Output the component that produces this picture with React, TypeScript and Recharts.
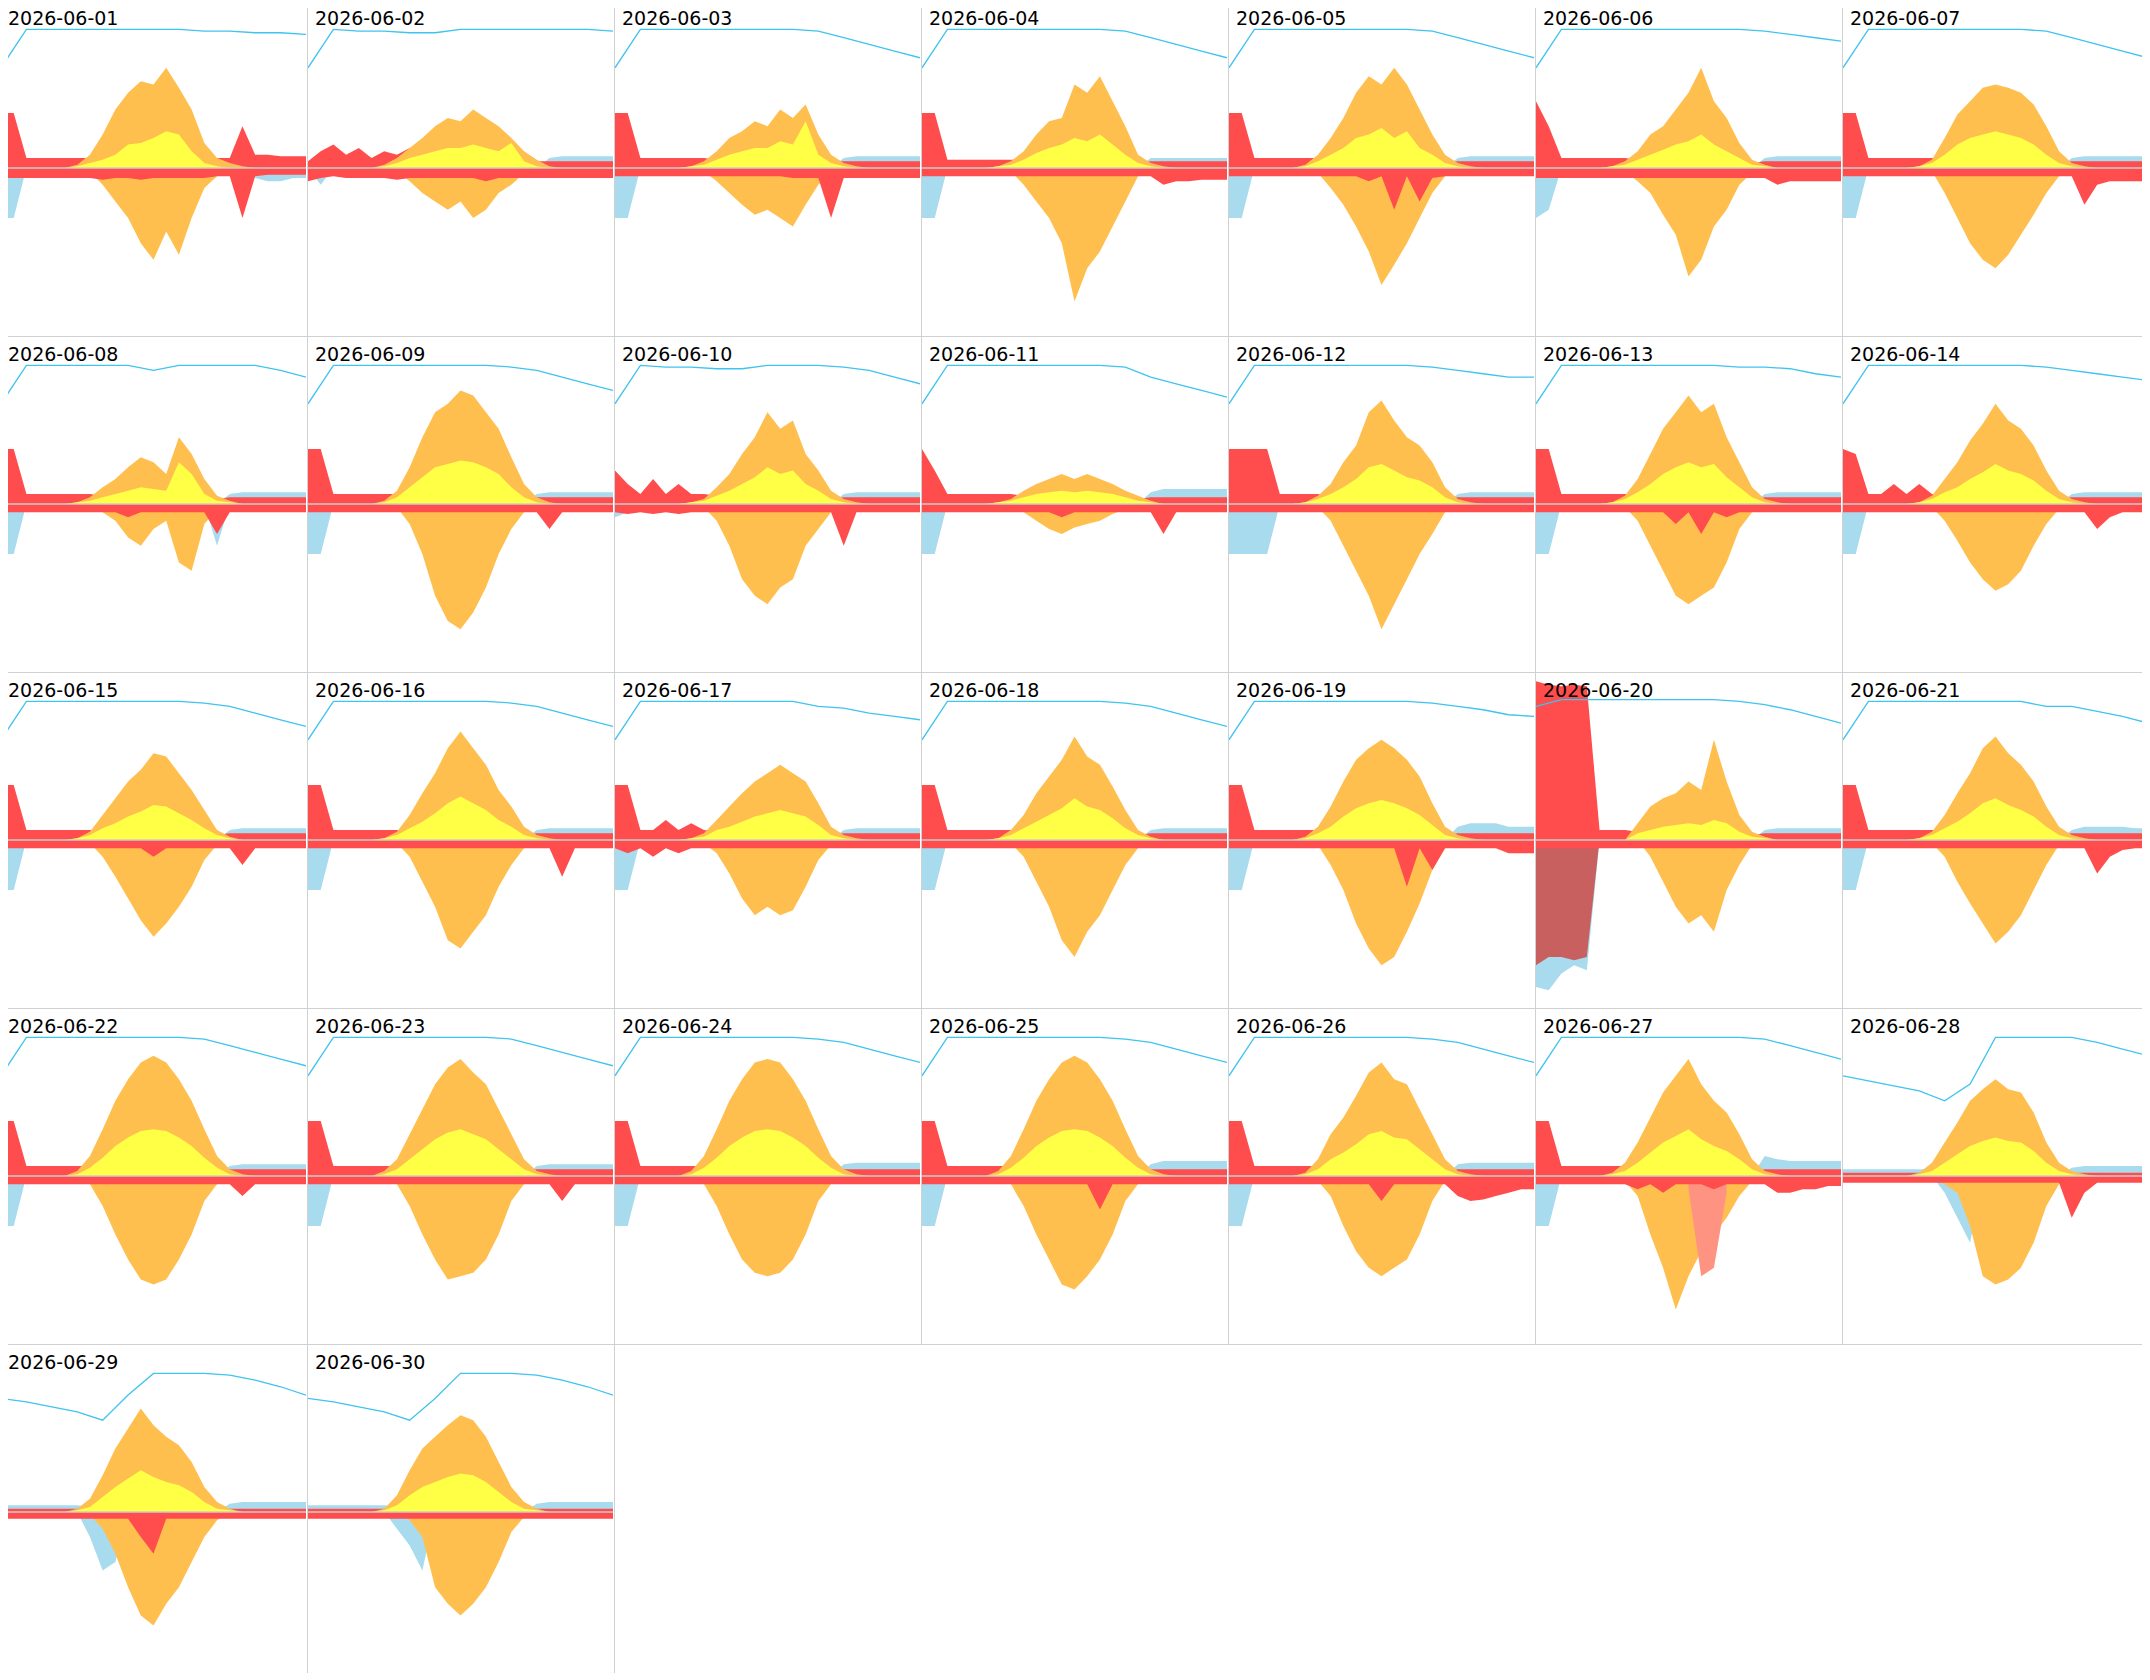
import { Area, ComposedChart, Line, ReferenceLine, XAxis, YAxis } from 'recharts';

const days = Array.from({ length: 30 }, (_, i) => `2026-06-${String(i + 1).padStart(2, '0')}`);

// solar hours 5..20
const solarHours = [5, 6, 7, 8, 9, 10, 11, 12, 13, 14, 15, 16, 17, 18, 19, 20];
const socHours = [0, 2, 4, 6, 8, 10, 12, 14, 16, 18, 20, 22, 24];

const production = [
  [0, 2, 8, 20, 35, 45, 52, 50, 60, 48, 35, 15, 6, 3, 1, 0],
  [0, 2, 6, 12, 18, 25, 30, 28, 35, 30, 25, 18, 10, 5, 1, 0],
  [0, 1, 4, 10, 18, 22, 28, 25, 35, 30, 38, 20, 8, 3, 1, 0],
  [0, 1, 4, 10, 20, 28, 30, 50, 45, 55, 40, 25, 8, 3, 1, 0],
  [0, 2, 8, 18, 30, 45, 55, 50, 60, 50, 35, 20, 8, 3, 1, 0],
  [0, 1, 4, 10, 20, 25, 35, 45, 60, 40, 30, 15, 5, 2, 0, 0],
  [0, 1, 5, 18, 32, 40, 48, 50, 48, 45, 38, 25, 10, 3, 1, 0],
  [0, 1, 4, 10, 15, 22, 28, 25, 18, 40, 30, 15, 5, 2, 0, 0],
  [0, 2, 8, 22, 40, 55, 60, 68, 65, 55, 45, 28, 12, 4, 1, 0],
  [0, 1, 3, 10, 18, 30, 40, 55, 45, 50, 30, 20, 8, 3, 1, 0],
  [0, 1, 3, 8, 12, 15, 18, 15, 18, 15, 12, 8, 5, 2, 0, 0],
  [0, 1, 5, 12, 25, 35, 55, 62, 50, 40, 35, 25, 10, 3, 1, 0],
  [0, 1, 5, 15, 30, 45, 55, 65, 55, 60, 40, 25, 10, 3, 1, 0],
  [0, 1, 5, 15, 25, 38, 48, 60, 50, 45, 35, 20, 8, 3, 1, 0],
  [0, 1, 5, 15, 25, 35, 42, 52, 50, 40, 30, 18, 6, 2, 0, 0],
  [0, 1, 5, 15, 28, 40, 55, 65, 55, 45, 30, 20, 8, 3, 1, 0],
  [0, 1, 4, 12, 20, 28, 35, 40, 45, 40, 35, 22, 8, 3, 1, 0],
  [0, 1, 6, 15, 28, 38, 48, 62, 50, 45, 32, 18, 6, 2, 0, 0],
  [0, 2, 8, 20, 35, 48, 55, 60, 55, 48, 38, 22, 8, 3, 1, 0],
  [0, 0, 0, 10, 20, 25, 28, 35, 30, 60, 35, 15, 5, 2, 0, 0],
  [0, 1, 5, 15, 28, 40, 55, 62, 52, 45, 35, 20, 8, 3, 1, 0],
  [0, 3, 12, 28, 45, 58, 68, 72, 68, 58, 45, 28, 12, 4, 1, 0],
  [0, 3, 10, 25, 40, 55, 65, 70, 62, 55, 40, 25, 10, 3, 1, 0],
  [0, 3, 12, 28, 45, 58, 68, 70, 68, 58, 45, 28, 12, 4, 1, 0],
  [0, 3, 12, 28, 45, 58, 68, 72, 68, 58, 45, 28, 12, 4, 1, 0],
  [0, 2, 10, 25, 35, 48, 62, 68, 58, 55, 40, 25, 10, 3, 1, 0],
  [0, 2, 8, 20, 35, 50, 60, 70, 55, 45, 38, 25, 10, 3, 1, 0],
  [0, 2, 8, 20, 32, 45, 52, 58, 52, 50, 38, 20, 8, 3, 1, 0],
  [0, 2, 8, 22, 38, 50, 62, 52, 45, 40, 30, 15, 6, 2, 0, 0],
  [0, 2, 10, 25, 38, 45, 52, 58, 55, 45, 30, 15, 6, 2, 0, 0],
];

const selfUse = [
  [0, 1, 3, 5, 8, 14, 15, 18, 22, 20, 10, 3, 1, 0, 0, 0],
  [0, 1, 3, 6, 8, 10, 12, 12, 14, 12, 10, 15, 4, 1, 0, 0],
  [0, 1, 2, 5, 8, 10, 12, 12, 16, 14, 28, 8, 3, 1, 0, 0],
  [0, 1, 2, 5, 9, 12, 14, 18, 16, 20, 14, 8, 3, 1, 0, 0],
  [0, 1, 4, 8, 12, 18, 20, 24, 18, 22, 12, 8, 3, 1, 0, 0],
  [0, 1, 2, 5, 8, 11, 14, 16, 20, 14, 10, 6, 2, 1, 0, 0],
  [0, 1, 3, 8, 14, 18, 20, 22, 20, 18, 14, 8, 3, 1, 0, 0],
  [0, 1, 2, 4, 6, 8, 10, 9, 8, 25, 18, 6, 2, 1, 0, 0],
  [0, 1, 4, 10, 16, 22, 24, 26, 25, 22, 18, 10, 4, 1, 0, 0],
  [0, 1, 2, 5, 8, 12, 16, 22, 18, 20, 12, 8, 3, 1, 0, 0],
  [0, 1, 2, 4, 6, 7, 8, 7, 8, 7, 6, 4, 2, 1, 0, 0],
  [0, 1, 3, 6, 10, 15, 22, 24, 20, 16, 14, 10, 4, 1, 0, 0],
  [0, 1, 3, 7, 12, 18, 22, 25, 22, 24, 16, 10, 4, 1, 0, 0],
  [0, 1, 3, 7, 10, 15, 19, 24, 20, 18, 14, 8, 3, 1, 0, 0],
  [0, 1, 3, 7, 10, 14, 17, 21, 20, 16, 12, 7, 3, 1, 0, 0],
  [0, 1, 3, 7, 11, 16, 22, 26, 22, 18, 12, 8, 3, 1, 0, 0],
  [0, 1, 2, 6, 8, 11, 14, 16, 18, 16, 14, 9, 3, 1, 0, 0],
  [0, 1, 3, 7, 11, 15, 19, 25, 20, 18, 13, 7, 3, 1, 0, 0],
  [0, 1, 4, 8, 14, 19, 22, 24, 22, 19, 15, 9, 3, 1, 0, 0],
  [0, 0, 0, 4, 6, 8, 9, 10, 9, 12, 10, 5, 2, 1, 0, 0],
  [0, 1, 3, 7, 11, 16, 22, 25, 21, 18, 14, 8, 3, 1, 0, 0],
  [0, 1, 5, 11, 18, 23, 27, 28, 27, 23, 18, 11, 5, 1, 0, 0],
  [0, 1, 4, 10, 16, 22, 26, 28, 25, 22, 16, 10, 4, 1, 0, 0],
  [0, 1, 5, 11, 18, 23, 27, 28, 27, 23, 18, 11, 5, 1, 0, 0],
  [0, 1, 5, 11, 18, 23, 27, 28, 27, 23, 18, 11, 5, 1, 0, 0],
  [0, 1, 4, 10, 14, 19, 25, 27, 23, 22, 16, 10, 4, 1, 0, 0],
  [0, 1, 3, 8, 14, 20, 24, 28, 22, 18, 15, 10, 4, 1, 0, 0],
  [0, 1, 3, 8, 13, 18, 21, 23, 21, 20, 15, 8, 3, 1, 0, 0],
  [0, 1, 3, 9, 15, 20, 25, 21, 18, 16, 12, 6, 2, 1, 0, 0],
  [0, 1, 4, 10, 15, 18, 21, 23, 22, 18, 12, 6, 2, 1, 0, 0],
];

const charging = [
  [0, 0, 2, 10, 20, 30, 45, 55, 38, 52, 30, 12, 5, 0, 0, 0],
  [0, 0, 2, 8, 15, 20, 25, 20, 30, 25, 15, 10, 3, 0, 0, 0],
  [0, 0, 2, 8, 15, 22, 28, 25, 30, 35, 22, 10, 3, 0, 0, 0],
  [0, 0, 2, 10, 20, 30, 45, 80, 60, 50, 35, 20, 5, 0, 0, 0],
  [0, 0, 3, 12, 22, 35, 50, 70, 58, 45, 30, 15, 5, 0, 0, 0],
  [0, 0, 2, 8, 15, 28, 40, 65, 55, 35, 25, 10, 3, 0, 0, 0],
  [0, 0, 2, 15, 30, 45, 55, 60, 52, 40, 28, 15, 5, 0, 0, 0],
  [0, 0, 1, 5, 10, 20, 25, 15, 10, 35, 40, 12, 3, 0, 0, 0],
  [0, 0, 2, 12, 30, 55, 70, 75, 65, 50, 30, 15, 5, 0, 0, 0],
  [0, 0, 2, 10, 25, 45, 55, 60, 50, 45, 25, 15, 5, 0, 0, 0],
  [0, 0, 1, 5, 10, 15, 18, 14, 12, 10, 6, 3, 1, 0, 0, 0],
  [0, 0, 2, 10, 25, 40, 55, 75, 60, 45, 30, 18, 5, 0, 0, 0],
  [0, 0, 2, 10, 25, 40, 55, 60, 55, 50, 35, 15, 5, 0, 0, 0],
  [0, 0, 2, 10, 22, 35, 45, 52, 48, 40, 25, 12, 3, 0, 0, 0],
  [0, 0, 2, 10, 22, 35, 48, 58, 50, 40, 28, 12, 3, 0, 0, 0],
  [0, 0, 2, 10, 25, 40, 60, 65, 55, 45, 28, 15, 5, 0, 0, 0],
  [0, 0, 2, 8, 20, 35, 45, 40, 45, 42, 28, 12, 3, 0, 0, 0],
  [0, 0, 2, 10, 25, 40, 60, 70, 55, 45, 30, 15, 5, 0, 0, 0],
  [0, 0, 3, 15, 30, 50, 65, 75, 70, 55, 38, 18, 5, 0, 0, 0],
  [0, 0, 0, 0, 10, 25, 40, 50, 45, 55, 30, 15, 3, 0, 0, 0],
  [0, 0, 2, 10, 25, 38, 50, 62, 55, 45, 30, 15, 3, 0, 0, 0],
  [0, 0, 5, 18, 35, 50, 62, 65, 62, 50, 35, 15, 5, 0, 0, 0],
  [0, 0, 5, 18, 35, 50, 62, 60, 58, 50, 35, 15, 5, 0, 0, 0],
  [0, 0, 5, 18, 35, 50, 58, 60, 58, 50, 35, 15, 5, 0, 0, 0],
  [0, 0, 5, 18, 35, 50, 65, 68, 60, 50, 35, 15, 5, 0, 0, 0],
  [0, 0, 3, 12, 30, 45, 55, 60, 55, 50, 35, 15, 3, 0, 0, 0],
  [0, 0, 3, 12, 35, 55, 80, 60, 45, 35, 25, 12, 3, 0, 0, 0],
  [0, 0, 2, 5, 10, 30, 60, 65, 62, 55, 40, 18, 5, 0, 0, 0],
  [0, 0, 2, 10, 25, 45, 62, 68, 55, 45, 30, 15, 5, 0, 0, 0],
  [0, 0, 1, 5, 15, 45, 55, 62, 55, 45, 30, 12, 3, 0, 0, 0],
];

// hourly 0..23
const gridImport = [
  [33, 33, 6, 6, 6, 6, 6, 6, 5, 3, 3, 3, 3, 3, 3, 4, 5, 6, 6, 25, 8, 8, 7, 7],
  [4, 10, 14, 8, 12, 6, 10, 8, 12, 6, 4, 3, 3, 3, 3, 4, 5, 4, 4, 4, 4, 4, 4, 4],
  [33, 33, 6, 6, 6, 6, 6, 6, 5, 3, 3, 3, 3, 3, 3, 4, 10, 4, 4, 4, 4, 4, 4, 4],
  [33, 33, 5, 5, 5, 5, 5, 5, 5, 3, 3, 3, 3, 3, 3, 3, 3, 3, 4, 4, 4, 4, 4, 4],
  [33, 33, 6, 6, 6, 6, 6, 6, 5, 3, 3, 3, 3, 3, 3, 3, 8, 3, 4, 4, 4, 4, 4, 4],
  [40, 25, 6, 6, 6, 6, 6, 6, 5, 3, 3, 3, 3, 3, 3, 3, 3, 3, 4, 4, 4, 4, 4, 4],
  [33, 33, 6, 6, 6, 6, 6, 6, 5, 3, 3, 3, 3, 3, 3, 3, 3, 3, 4, 4, 4, 4, 4, 4],
  [33, 33, 6, 6, 6, 6, 6, 6, 5, 3, 3, 3, 3, 3, 3, 3, 3, 3, 4, 4, 4, 4, 4, 4],
  [33, 33, 6, 6, 6, 6, 6, 6, 5, 3, 3, 3, 3, 3, 3, 3, 3, 3, 4, 4, 4, 4, 4, 4],
  [20, 12, 6, 15, 6, 12, 6, 6, 5, 3, 3, 3, 3, 3, 3, 3, 3, 3, 4, 4, 4, 4, 4, 4],
  [33, 20, 6, 6, 6, 6, 6, 6, 5, 3, 3, 3, 3, 3, 3, 3, 3, 3, 4, 4, 4, 4, 4, 4],
  [33, 33, 33, 33, 6, 6, 6, 6, 5, 3, 3, 3, 3, 3, 3, 3, 3, 3, 4, 4, 4, 4, 4, 4],
  [33, 33, 6, 6, 6, 6, 6, 6, 5, 3, 3, 3, 3, 3, 3, 3, 3, 3, 4, 4, 4, 4, 4, 4],
  [33, 30, 6, 6, 12, 6, 12, 6, 5, 3, 3, 3, 3, 3, 3, 3, 3, 3, 4, 4, 4, 4, 4, 4],
  [33, 33, 6, 6, 6, 6, 6, 6, 5, 3, 3, 3, 3, 3, 3, 3, 3, 3, 4, 4, 4, 4, 4, 4],
  [33, 33, 6, 6, 6, 6, 6, 6, 5, 3, 3, 3, 3, 3, 3, 3, 3, 3, 4, 4, 4, 4, 4, 4],
  [33, 33, 6, 6, 12, 6, 10, 6, 5, 3, 3, 3, 3, 3, 3, 3, 3, 3, 4, 4, 4, 4, 4, 4],
  [33, 33, 6, 6, 6, 6, 6, 6, 5, 3, 3, 3, 3, 3, 3, 3, 3, 3, 4, 4, 4, 4, 4, 4],
  [33, 33, 6, 6, 6, 6, 6, 6, 5, 3, 3, 3, 3, 3, 3, 3, 3, 3, 4, 4, 4, 4, 4, 4],
  [95, 93, 92, 93, 92, 6, 6, 6, 5, 3, 3, 3, 3, 3, 3, 3, 3, 3, 4, 4, 4, 4, 4, 4],
  [33, 33, 6, 6, 6, 6, 6, 6, 5, 3, 3, 3, 3, 3, 3, 3, 3, 3, 4, 4, 4, 4, 4, 4],
  [33, 33, 6, 6, 6, 6, 6, 6, 5, 3, 3, 3, 3, 3, 3, 3, 3, 3, 4, 4, 4, 4, 4, 4],
  [33, 33, 6, 6, 6, 6, 6, 6, 5, 3, 3, 3, 3, 3, 3, 3, 3, 3, 4, 4, 4, 4, 4, 4],
  [33, 33, 6, 6, 6, 6, 6, 6, 5, 3, 3, 3, 3, 3, 3, 3, 3, 3, 4, 4, 4, 4, 4, 4],
  [33, 33, 6, 6, 6, 6, 6, 6, 5, 3, 3, 3, 3, 3, 3, 3, 3, 3, 4, 4, 4, 4, 4, 4],
  [33, 33, 6, 6, 6, 6, 6, 6, 5, 3, 3, 3, 3, 3, 3, 3, 3, 3, 4, 4, 4, 4, 4, 4],
  [33, 33, 6, 6, 6, 6, 6, 6, 5, 3, 3, 3, 3, 3, 3, 3, 3, 3, 4, 4, 4, 4, 4, 4],
  [2, 2, 2, 2, 2, 2, 2, 2, 2, 2, 2, 2, 2, 2, 2, 2, 2, 2, 2, 2, 2, 2, 2, 2],
  [2, 2, 2, 2, 2, 2, 2, 2, 2, 2, 2, 2, 2, 2, 2, 2, 2, 2, 2, 2, 2, 2, 2, 2],
  [2, 2, 2, 2, 2, 2, 2, 2, 2, 2, 2, 2, 2, 2, 2, 2, 2, 2, 2, 2, 2, 2, 2, 2],
];

const gridExport = [
  [-6, -6, -6, -6, -6, -6, -6, -6, -7, -6, -6, -7, -6, -6, -6, -6, -6, -5, -5, -30, -5, -4, -4, -4],
  [-8, -6, -5, -6, -6, -6, -6, -7, -6, -6, -6, -6, -6, -6, -8, -6, -6, -6, -6, -6, -6, -6, -6, -6],
  [-5, -5, -5, -5, -5, -5, -5, -5, -5, -5, -5, -5, -5, -5, -6, -6, -6, -30, -6, -6, -6, -6, -6, -6],
  [-5, -5, -5, -5, -5, -5, -5, -5, -5, -5, -5, -5, -5, -5, -5, -5, -5, -5, -5, -10, -8, -8, -7, -7],
  [-5, -5, -5, -5, -5, -5, -5, -5, -5, -5, -5, -8, -5, -25, -5, -20, -6, -5, -5, -5, -5, -5, -5, -5],
  [-6, -6, -6, -6, -6, -6, -6, -6, -6, -6, -6, -6, -6, -6, -6, -6, -6, -6, -6, -10, -8, -8, -8, -8],
  [-5, -5, -5, -5, -5, -5, -5, -5, -5, -5, -5, -5, -5, -5, -5, -5, -5, -5, -5, -22, -10, -8, -8, -8],
  [-5, -5, -5, -5, -5, -5, -5, -5, -5, -5, -8, -5, -5, -5, -5, -5, -5, -18, -5, -5, -5, -5, -5, -5],
  [-5, -5, -5, -5, -5, -5, -5, -5, -5, -5, -5, -5, -5, -5, -5, -5, -5, -5, -5, -15, -5, -5, -5, -5],
  [-5, -6, -5, -6, -5, -6, -5, -5, -5, -5, -5, -5, -5, -5, -5, -5, -5, -5, -25, -5, -5, -5, -5, -5],
  [-5, -5, -5, -5, -5, -5, -5, -5, -5, -5, -5, -8, -5, -5, -5, -5, -5, -5, -5, -18, -5, -5, -5, -5],
  [-5, -5, -5, -5, -5, -5, -5, -5, -5, -5, -5, -5, -5, -5, -5, -5, -5, -5, -5, -5, -5, -5, -5, -5],
  [-5, -5, -5, -5, -5, -5, -5, -5, -5, -5, -5, -12, -5, -18, -5, -8, -5, -5, -5, -5, -5, -5, -5, -5],
  [-5, -5, -5, -5, -5, -5, -5, -5, -5, -5, -5, -5, -5, -5, -5, -5, -5, -5, -5, -5, -15, -8, -5, -5],
  [-5, -5, -5, -5, -5, -5, -5, -5, -5, -5, -5, -5, -10, -5, -5, -5, -5, -5, -5, -15, -5, -5, -5, -5],
  [-5, -5, -5, -5, -5, -5, -5, -5, -5, -5, -5, -5, -5, -5, -5, -5, -5, -5, -5, -5, -22, -5, -5, -5],
  [-5, -8, -5, -10, -5, -8, -5, -5, -5, -5, -5, -5, -5, -5, -5, -5, -5, -5, -5, -5, -5, -5, -5, -5],
  [-5, -5, -5, -5, -5, -5, -5, -5, -5, -5, -5, -5, -5, -5, -5, -5, -5, -5, -5, -5, -5, -5, -5, -5],
  [-5, -5, -5, -5, -5, -5, -5, -5, -5, -5, -5, -5, -5, -5, -28, -5, -18, -5, -5, -5, -5, -5, -8, -8],
  [-5, -5, -5, -5, -5, -5, -5, -5, -5, -5, -5, -5, -5, -5, -5, -5, -5, -5, -5, -5, -5, -5, -5, -5],
  [-5, -5, -5, -5, -5, -5, -5, -5, -5, -5, -5, -5, -5, -5, -5, -5, -5, -5, -5, -5, -20, -10, -6, -5],
  [-5, -5, -5, -5, -5, -5, -5, -5, -5, -5, -5, -5, -5, -5, -5, -5, -5, -5, -5, -12, -5, -5, -5, -5],
  [-5, -5, -5, -5, -5, -5, -5, -5, -5, -5, -5, -5, -5, -5, -5, -5, -5, -5, -5, -5, -15, -5, -5, -5],
  [-5, -5, -5, -5, -5, -5, -5, -5, -5, -5, -5, -5, -5, -5, -5, -5, -5, -5, -5, -5, -5, -5, -5, -5],
  [-5, -5, -5, -5, -5, -5, -5, -5, -5, -5, -5, -5, -5, -5, -20, -5, -5, -5, -5, -5, -5, -5, -5, -5],
  [-5, -5, -5, -5, -5, -5, -5, -5, -5, -5, -5, -5, -15, -5, -5, -5, -5, -5, -12, -15, -14, -12, -10, -8],
  [-5, -5, -5, -5, -5, -5, -5, -5, -8, -5, -10, -5, -5, -5, -8, -5, -5, -5, -5, -10, -10, -8, -8, -6],
  [-4, -4, -4, -4, -4, -4, -4, -4, -4, -4, -4, -4, -4, -4, -4, -4, -4, -4, -25, -10, -4, -4, -4, -4],
  [-4, -4, -4, -4, -4, -4, -4, -4, -4, -4, -4, -15, -25, -4, -4, -4, -4, -4, -4, -4, -4, -4, -4, -4],
  [-4, -4, -4, -4, -4, -4, -4, -4, -4, -4, -4, -4, -4, -4, -4, -4, -4, -4, -4, -4, -4, -4, -4, -4],
];

const batteryIn = [
  [-30, -30, 0, 0, 0, 0, 0, 0, 0, 0, 0, 0, 0, 0, 0, 0, 0, 0, 0, 0, -6, -8, -8, -6],
  [0, -10, 0, 0, 0, 0, 0, 0, 0, 0, 0, 0, 0, 0, 0, 0, 0, 0, 0, 0, 0, 0, 0, 0],
  [-30, -30, 0, 0, 0, 0, 0, 0, 0, 0, 0, 0, 0, 0, 0, 0, 0, 0, 0, 0, 0, 0, 0, 0],
  [-30, -30, 0, 0, 0, 0, 0, 0, 0, 0, 0, 0, 0, 0, 0, 0, 0, 0, 0, 0, 0, 0, 0, 0],
  [-30, -30, 0, 0, 0, 0, 0, 0, 0, 0, 0, 0, 0, 0, 0, 0, 0, 0, 0, 0, 0, 0, 0, 0],
  [-30, -25, 0, 0, 0, 0, 0, 0, 0, 0, 0, 0, 0, 0, 0, 0, 0, 0, 0, 0, 0, 0, 0, 0],
  [-30, -30, 0, 0, 0, 0, 0, 0, 0, 0, 0, 0, 0, 0, 0, 0, 0, 0, 0, 0, 0, 0, 0, 0],
  [-30, -30, 0, 0, 0, 0, 0, 0, 0, 0, 0, 0, 0, 0, 0, 0, 0, -25, 0, 0, 0, 0, 0, 0],
  [-30, -30, 0, 0, 0, 0, 0, 0, 0, 0, 0, 0, 0, 0, 0, 0, 0, 0, 0, 0, 0, 0, 0, 0],
  [-8, -5, 0, 0, 0, 0, 0, 0, 0, 0, 0, 0, 0, 0, 0, 0, 0, 0, 0, 0, 0, 0, 0, 0],
  [-30, -30, 0, 0, 0, 0, 0, 0, 0, 0, 0, 0, 0, 0, 0, 0, 0, 0, 0, 0, 0, 0, 0, 0],
  [-30, -30, -30, -30, 0, 0, 0, 0, 0, 0, 0, 0, 0, 0, 0, 0, 0, 0, 0, 0, 0, 0, 0, 0],
  [-30, -30, 0, 0, 0, 0, 0, 0, 0, 0, 0, 0, 0, 0, 0, 0, 0, 0, 0, 0, 0, 0, 0, 0],
  [-30, -30, 0, 0, 0, 0, 0, 0, 0, 0, 0, 0, 0, 0, 0, 0, 0, 0, 0, 0, 0, 0, 0, 0],
  [-30, -30, 0, 0, 0, 0, 0, 0, 0, 0, 0, 0, 0, 0, 0, 0, 0, 0, 0, 0, 0, 0, 0, 0],
  [-30, -30, 0, 0, 0, 0, 0, 0, 0, 0, 0, 0, 0, 0, 0, 0, 0, 0, 0, 0, 0, 0, 0, 0],
  [-30, -30, 0, 0, 0, 0, 0, 0, 0, 0, 0, 0, 0, 0, 0, 0, 0, 0, 0, 0, 0, 0, 0, 0],
  [-30, -30, 0, 0, 0, 0, 0, 0, 0, 0, 0, 0, 0, 0, 0, 0, 0, 0, 0, 0, 0, 0, 0, 0],
  [-30, -30, 0, 0, 0, 0, 0, 0, 0, 0, 0, 0, 0, 0, 0, 0, 0, 0, 0, 0, 0, 0, 0, 0],
  [-88, -90, -80, -75, -78, 0, 0, 0, 0, 0, 0, 0, 0, 0, 0, 0, 0, 0, 0, 0, 0, 0, 0, 0],
  [-30, -30, 0, 0, 0, 0, 0, 0, 0, 0, 0, 0, 0, 0, 0, 0, 0, 0, 0, 0, 0, 0, 0, 0],
  [-30, -30, 0, 0, 0, 0, 0, 0, 0, 0, 0, 0, 0, 0, 0, 0, 0, 0, 0, 0, 0, 0, 0, 0],
  [-30, -30, 0, 0, 0, 0, 0, 0, 0, 0, 0, 0, 0, 0, 0, 0, 0, 0, 0, 0, 0, 0, 0, 0],
  [-30, -30, 0, 0, 0, 0, 0, 0, 0, 0, 0, 0, 0, 0, 0, 0, 0, 0, 0, 0, 0, 0, 0, 0],
  [-30, -30, 0, 0, 0, 0, 0, 0, 0, 0, 0, 0, 0, 0, 0, 0, 0, 0, 0, 0, 0, 0, 0, 0],
  [-30, -30, 0, 0, 0, 0, 0, 0, 0, 0, 0, 0, 0, 0, 0, 0, 0, 0, 0, 0, 0, 0, 0, 0],
  [-30, -30, 0, 0, 0, 0, 0, 0, 0, 0, 0, 0, 0, 0, 0, 0, 0, 0, 0, 0, 0, 0, 0, 0],
  [0, 0, 0, 0, 0, 0, 0, 0, -10, -25, -40, 0, 0, 0, 0, 0, 0, 0, 0, 0, 0, 0, 0, 0],
  [0, 0, 0, 0, 0, 0, 0, -15, -35, -30, 0, 0, 0, 0, 0, 0, 0, 0, 0, 0, 0, 0, 0, 0],
  [0, 0, 0, 0, 0, 0, 0, -10, -20, -35, 0, 0, 0, 0, 0, 0, 0, 0, 0, 0, 0, 0, 0, 0],
];

const batteryOut = [
  [0, 0, 0, 0, 0, 0, 0, 0, 0, 0, 0, 0, 0, 0, 0, 0, 0, 0, 0, 0, 0, 0, 0, 0],
  [0, 0, 0, 0, 0, 0, 0, 0, 0, 0, 0, 0, 0, 0, 0, 0, 0, 0, 0, 6, 7, 7, 7, 7],
  [0, 0, 0, 0, 0, 0, 0, 0, 0, 0, 0, 0, 0, 0, 0, 0, 0, 0, 6, 7, 7, 7, 7, 7],
  [0, 0, 0, 0, 0, 0, 0, 0, 0, 0, 0, 0, 0, 0, 0, 0, 0, 0, 6, 6, 6, 6, 6, 6],
  [0, 0, 0, 0, 0, 0, 0, 0, 0, 0, 0, 0, 0, 0, 0, 0, 0, 0, 6, 7, 7, 7, 7, 7],
  [0, 0, 0, 0, 0, 0, 0, 0, 0, 0, 0, 0, 0, 0, 0, 0, 0, 0, 6, 7, 7, 7, 7, 7],
  [0, 0, 0, 0, 0, 0, 0, 0, 0, 0, 0, 0, 0, 0, 0, 0, 0, 0, 6, 7, 7, 7, 7, 7],
  [0, 0, 0, 0, 0, 0, 0, 0, 0, 0, 0, 0, 0, 0, 0, 0, 0, 0, 6, 7, 7, 7, 7, 7],
  [0, 0, 0, 0, 0, 0, 0, 0, 0, 0, 0, 0, 0, 0, 0, 0, 0, 0, 6, 7, 7, 7, 7, 7],
  [0, 0, 0, 0, 0, 0, 0, 0, 0, 0, 0, 0, 0, 0, 0, 0, 0, 0, 6, 7, 7, 7, 7, 7],
  [0, 0, 0, 0, 0, 0, 0, 0, 0, 0, 0, 0, 0, 0, 0, 0, 0, 0, 7, 9, 9, 9, 9, 9],
  [0, 0, 0, 0, 0, 0, 0, 0, 0, 0, 0, 0, 0, 0, 0, 0, 0, 0, 6, 7, 7, 7, 7, 7],
  [0, 0, 0, 0, 0, 0, 0, 0, 0, 0, 0, 0, 0, 0, 0, 0, 0, 0, 6, 7, 7, 7, 7, 7],
  [0, 0, 0, 0, 0, 0, 0, 0, 0, 0, 0, 0, 0, 0, 0, 0, 0, 0, 6, 7, 7, 7, 7, 7],
  [0, 0, 0, 0, 0, 0, 0, 0, 0, 0, 0, 0, 0, 0, 0, 0, 0, 0, 6, 7, 7, 7, 7, 7],
  [0, 0, 0, 0, 0, 0, 0, 0, 0, 0, 0, 0, 0, 0, 0, 0, 0, 0, 6, 7, 7, 7, 7, 7],
  [0, 0, 0, 0, 0, 0, 0, 0, 0, 0, 0, 0, 0, 0, 0, 0, 0, 0, 6, 7, 7, 7, 7, 7],
  [0, 0, 0, 0, 0, 0, 0, 0, 0, 0, 0, 0, 0, 0, 0, 0, 0, 0, 6, 7, 7, 7, 7, 7],
  [0, 0, 0, 0, 0, 0, 0, 0, 0, 0, 0, 0, 0, 0, 0, 0, 0, 0, 8, 10, 10, 10, 8, 8],
  [0, 0, 0, 0, 0, 0, 0, 0, 0, 0, 0, 0, 0, 0, 0, 0, 0, 0, 6, 7, 7, 7, 7, 7],
  [0, 0, 0, 0, 0, 0, 0, 0, 0, 0, 0, 0, 0, 0, 0, 0, 0, 0, 6, 8, 8, 8, 8, 7],
  [0, 0, 0, 0, 0, 0, 0, 0, 0, 0, 0, 0, 0, 0, 0, 0, 0, 0, 6, 7, 7, 7, 7, 7],
  [0, 0, 0, 0, 0, 0, 0, 0, 0, 0, 0, 0, 0, 0, 0, 0, 0, 0, 6, 7, 7, 7, 7, 7],
  [0, 0, 0, 0, 0, 0, 0, 0, 0, 0, 0, 0, 0, 0, 0, 0, 0, 0, 7, 8, 8, 8, 8, 8],
  [0, 0, 0, 0, 0, 0, 0, 0, 0, 0, 0, 0, 0, 0, 0, 0, 0, 0, 7, 9, 9, 9, 9, 9],
  [0, 0, 0, 0, 0, 0, 0, 0, 0, 0, 0, 0, 0, 0, 0, 0, 0, 0, 7, 8, 8, 8, 8, 8],
  [0, 0, 0, 0, 0, 0, 0, 0, 0, 0, 0, 0, 0, 0, 0, 0, 0, 0, 12, 10, 9, 9, 9, 9],
  [4, 4, 4, 4, 4, 4, 4, 4, 3, 0, 0, 0, 0, 0, 0, 0, 0, 0, 5, 6, 6, 6, 6, 6],
  [4, 4, 4, 4, 4, 4, 4, 3, 0, 0, 0, 0, 0, 0, 0, 0, 0, 0, 5, 6, 6, 6, 6, 6],
  [4, 4, 4, 4, 4, 4, 4, 3, 0, 0, 0, 0, 0, 0, 0, 0, 0, 0, 5, 6, 6, 6, 6, 6],
];

// special negative blocks (06-20 dark red, 06-27 salmon)
const darkBlock = [
  [], [], [], [], [], [], [], [], [], [], [], [], [], [], [], [], [], [], [],
  [-75, -70, -70, -72, -70], [], [], [], [], [], [], [], [], [], [],
];
const salmonHours = [12, 13, 14, 15];
const salmonBlock = [-8, -60, -55, -10];

const soc = [
  [60, 83, 83, 83, 83, 83, 83, 83, 82, 82, 81, 81, 80],
  [60, 83, 82, 82, 81, 81, 83, 83, 83, 83, 83, 83, 82],
  [60, 83, 83, 83, 83, 83, 83, 83, 82, 78, 74, 70, 66],
  [60, 83, 83, 83, 83, 83, 83, 83, 82, 78, 74, 70, 66],
  [60, 83, 83, 83, 83, 83, 83, 83, 82, 78, 74, 70, 66],
  [60, 83, 83, 83, 83, 83, 83, 83, 83, 82, 80, 78, 76],
  [60, 83, 83, 83, 83, 83, 83, 83, 82, 78, 74, 70, 66],
  [60, 83, 83, 83, 83, 83, 80, 83, 83, 83, 83, 80, 76],
  [60, 83, 83, 83, 83, 83, 83, 83, 82, 80, 76, 72, 68],
  [60, 83, 82, 82, 81, 81, 83, 83, 83, 82, 80, 76, 72],
  [60, 83, 83, 83, 83, 83, 83, 83, 82, 76, 72, 68, 64],
  [60, 83, 83, 83, 83, 83, 83, 83, 82, 80, 78, 76, 76],
  [60, 83, 83, 83, 83, 83, 83, 83, 82, 82, 81, 78, 76],
  [60, 83, 83, 83, 83, 83, 83, 83, 82, 80, 78, 76, 74],
  [60, 83, 83, 83, 83, 83, 83, 83, 82, 80, 76, 72, 68],
  [60, 83, 83, 83, 83, 83, 83, 83, 82, 80, 76, 72, 68],
  [60, 83, 83, 83, 83, 83, 83, 83, 80, 79, 76, 74, 72],
  [60, 83, 83, 83, 83, 83, 83, 83, 82, 80, 76, 72, 68],
  [60, 83, 83, 83, 83, 83, 83, 83, 82, 80, 78, 75, 74],
  [80, 84, 84, 84, 84, 84, 84, 84, 83, 81, 78, 74, 70],
  [60, 83, 83, 83, 83, 83, 83, 83, 80, 80, 77, 74, 70],
  [60, 83, 83, 83, 83, 83, 83, 83, 82, 78, 74, 70, 66],
  [60, 83, 83, 83, 83, 83, 83, 83, 82, 78, 74, 70, 66],
  [60, 83, 83, 83, 83, 83, 83, 83, 82, 80, 76, 72, 68],
  [60, 83, 83, 83, 83, 83, 83, 83, 82, 80, 76, 72, 68],
  [60, 83, 83, 83, 83, 83, 83, 83, 82, 80, 76, 72, 68],
  [60, 83, 83, 83, 83, 83, 83, 83, 83, 82, 78, 74, 70],
  [60, 57, 54, 51, 45, 55, 83, 83, 83, 83, 80, 76, 72],
  [68, 66, 63, 60, 55, 70, 83, 83, 83, 82, 79, 75, 70],
  [68, 66, 63, 60, 55, 68, 83, 83, 83, 82, 79, 75, 70],
];

const orange = '#ffbf4f';
const yellow = '#ffff45';
const red = '#ff4d4d';
const blue = '#a8dbee';
const socColor = '#3fc3ef';

const W = 307;
const H = 336;

function buildRows(d: number) {
  const rows: Record<string, number | undefined>[] = [];
  for (let h = 0; h <= 24; h++) {
    const si = solarHours.indexOf(h);
    const ci = socHours.indexOf(h);
    const hh = Math.min(h, 23);
    const db = darkBlock[d];
    const sh = salmonHours.indexOf(h);
    rows.push({
      h,
      prod: si >= 0 ? production[d][si] : 0,
      self: si >= 0 ? selfUse[d][si] : 0,
      chg: si >= 0 ? -charging[d][si] : 0,
      rin: gridImport[d][hh],
      rout: gridExport[d][hh],
      bin: batteryIn[d][hh],
      bout: batteryOut[d][hh],
      soc: ci >= 0 ? soc[d][ci] : undefined,
      dark: db.length ? (h < db.length ? db[h] : h === db.length ? 0 : undefined) : undefined,
      salmon: d === 26 && sh >= 0 ? salmonBlock[sh] : undefined,
    });
  }
  return rows;
}

function DayPanel({ d }: { d: number }) {
  const rows = buildRows(d);
  const col = d % 7;
  const row = Math.floor(d / 7);
  return (
    <div style={{ position: 'absolute', left: col * W, top: row * H, width: W, height: H, borderRight: '1.5px solid #d0d0d0', borderBottom: '1.5px solid #d0d0d0', boxSizing: 'border-box' }}>
      <ComposedChart width={W - 2} height={H - 2} data={rows} margin={{ top: 0, right: 0, bottom: 0, left: 0 }}>
        <XAxis dataKey="h" type="number" domain={[0, 24]} hide />
        <YAxis domain={[-100, 100]} hide allowDataOverflow />
        <Area dataKey="bout" type="linear" stroke="none" fill={blue} fillOpacity={1} isAnimationActive={false} />
        <Area dataKey="bin" type="linear" stroke="none" fill={blue} fillOpacity={1} isAnimationActive={false} />
        <Area dataKey="rin" type="linear" stroke="none" fill={red} fillOpacity={1} isAnimationActive={false} />
        <Area dataKey="prod" type="linear" stroke="none" fill={orange} fillOpacity={1} isAnimationActive={false} />
        <Area dataKey="self" type="linear" stroke="none" fill={yellow} fillOpacity={1} isAnimationActive={false} />
        <Area dataKey="chg" type="linear" stroke="none" fill={orange} fillOpacity={1} isAnimationActive={false} />
        <Area dataKey="dark" type="linear" stroke="none" fill="#c86060" fillOpacity={1} isAnimationActive={false} />
        <Area dataKey="salmon" type="linear" stroke="none" fill="#ff9382" fillOpacity={1} isAnimationActive={false} />
        <Area dataKey="rout" type="linear" stroke="none" fill={red} fillOpacity={1} isAnimationActive={false} />
        <ReferenceLine y={0} stroke="#cccccc" strokeWidth={1.5} />
        <Line dataKey="soc" type="linear" stroke={socColor} strokeWidth={1.3} dot={false} connectNulls isAnimationActive={false} />
      </ComposedChart>
      <div style={{ position: 'absolute', left: 7, top: 6, fontFamily: 'DejaVu Sans', fontSize: 19, color: '#000' }}>{days[d]}</div>
    </div>
  );
}

export default function App() {
  return (
    <div style={{ position: 'relative', width: 2150, height: 1680, margin: -8, background: '#fff', borderLeft: '1.5px solid #d0d0d0', borderTop: '1.5px solid #d0d0d0' }}>
      {days.map((_, d) => <DayPanel key={d} d={d} />)}
    </div>
  );
}
